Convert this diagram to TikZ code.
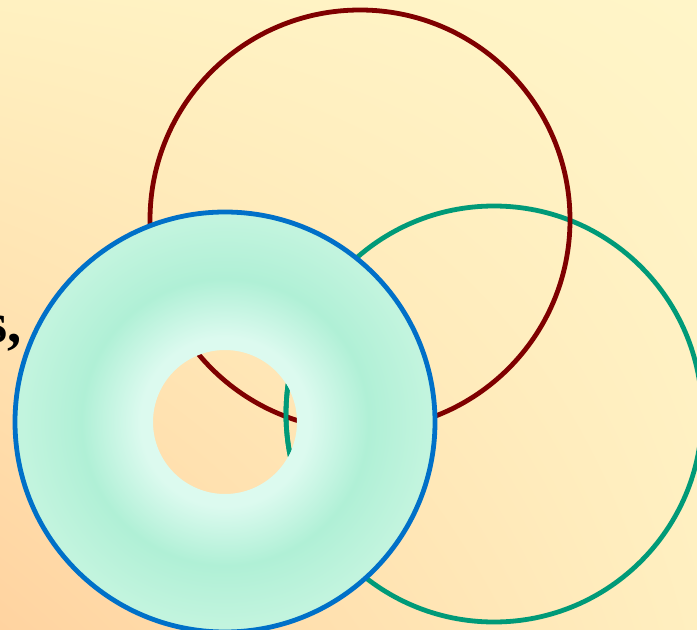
\documentclass[tikz,border=0pt]{standalone}
\usepackage{fontspec}
\usetikzlibrary{shadings}
\setmainfont{Liberation Serif}
\definecolor{bgBL}{HTML}{FFD3A0}
\definecolor{bgBR}{HTML}{FFEFC0}
\definecolor{bgTL}{HTML}{FFF1C1}
\definecolor{bgTR}{HTML}{FFF5C8}
\definecolor{ringred}{HTML}{7F0000}
\definecolor{ringgreen}{HTML}{009A78}
\definecolor{ringblue}{HTML}{0070C8}
\definecolor{tlight}{HTML}{DCFAEF}
\definecolor{tdark}{HTML}{B0F0D6}
\definecolor{tout}{HTML}{C2F4DE}
\pgfdeclareradialshading{torusshade}{\pgfpoint{0bp}{0bp}}{%
  color(0bp)=(tlight); color(9bp)=(tlight); color(10bp)=(tlight);
  color(17bp)=(tdark); color(24bp)=(tout); color(25bp)=(tout); color(50bp)=(tout)}
\tikzset{
  ring/.style={line width=4.8bp},
}
\begin{document}
\begin{tikzpicture}[x=1bp,y=-1bp]
\useasboundingbox (0,0) rectangle (697,630);
\shade[lower left=bgBL, lower right=bgBR, upper left=bgTL, upper right=bgTR]
  (0,0) rectangle (697,630);
\coordinate (redc) at (360,220);
\coordinate (greenc) at (494,414);
\coordinate (torusc) at (225,422);
\node[anchor=base east, inner sep=0pt, font=\fontsize{57}{60}\selectfont\bfseries] (txt) at (22,342) {s,};
\draw[ring, ringgreen] (greenc) circle (208bp);
\draw[ring, ringred] (redc) circle (210bp);
\shade[shading=torusshade, even odd rule] (torusc) circle (211bp) (torusc) circle (72bp);
\draw[ring, ringblue] (torusc) circle (210bp);
\begin{scope}
  \clip (torusc) circle (72bp);
  \draw[ring, ringgreen] (greenc) circle (208bp);
\end{scope}
\end{tikzpicture}
\end{document}
